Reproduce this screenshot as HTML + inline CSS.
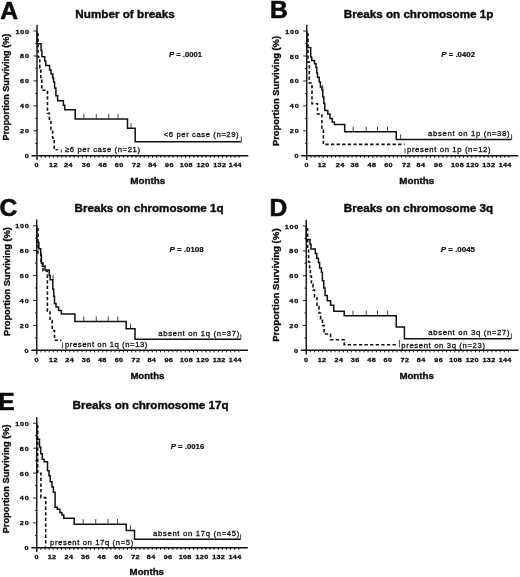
<!DOCTYPE html>
<html lang="en">
<head>
<meta charset="utf-8">
<title>Survival by chromosome breaks</title>
<style>
html,body{margin:0;padding:0;background:#fff;}
body{width:520px;height:577px;overflow:hidden;}
svg{display:block;filter:blur(0.4px);}
text{font-family:"Liberation Sans", Arial, Helvetica, sans-serif;fill:#0b0b0b;}
.ax{fill:none;stroke:#111;stroke-width:1.4;}
.tk{fill:none;stroke:#111;stroke-width:0.9;}
.cv{fill:none;stroke:#111;stroke-width:1.5;stroke-linejoin:miter;}
.ds{fill:none;stroke:#111;stroke-width:1.6;stroke-dasharray:3.3 2.3;}
.ck{fill:none;stroke:#333;stroke-width:0.9;}
.tl{font-size:6.0px;font-weight:700;stroke:#111;stroke-width:0.3;}
.at{font-size:9.7px;font-weight:700;stroke:#111;stroke-width:0.35;}
.yt{font-size:9.2px;font-weight:700;stroke:#111;stroke-width:0.35;}
.pl{font-size:24.6px;font-weight:700;stroke:#0b0b0b;stroke-width:0.6;}
.ti{font-size:11.4px;font-weight:700;stroke:#111;stroke-width:0.4;}
.pv{font-size:7.7px;font-weight:700;stroke:#111;stroke-width:0.2;}
.lb{font-size:7.7px;font-weight:400;stroke:#111;stroke-width:0.28;}
</style>
</head>
<body>
<svg width="520" height="577" viewBox="0 0 520 577">
<rect x="0" y="0" width="520" height="577" fill="#ffffff"/>
<g>
<path class="ax" d="M37.00 24.70 V159.95 M31.50 155.75 H248.30"/>
<path class="tk" d="M33.40 31.00 h3.6 M33.40 55.95 h3.6 M33.40 80.90 h3.6 M33.40 105.85 h3.6 M33.40 130.80 h3.6 M35.20 43.48 h1.8 M35.20 68.42 h1.8 M35.20 93.38 h1.8 M35.20 118.33 h1.8 M35.20 143.28 h1.8"/>
<path class="tk" d="M41.12 155.75 v2.1 M45.25 155.75 v2.1 M49.38 155.75 v2.1 M53.50 155.75 v2.1 M57.62 155.75 v2.1 M61.75 155.75 v2.1 M65.88 155.75 v2.1 M70.00 155.75 v2.1 M74.12 155.75 v2.1 M78.25 155.75 v2.1 M82.38 155.75 v2.1 M86.50 155.75 v2.1 M90.62 155.75 v2.1 M94.75 155.75 v2.1 M98.88 155.75 v2.1 M103.00 155.75 v2.1 M107.12 155.75 v2.1 M111.25 155.75 v2.1 M115.38 155.75 v2.1 M119.50 155.75 v2.1 M123.62 155.75 v2.1 M127.75 155.75 v2.1 M131.88 155.75 v2.1 M136.00 155.75 v2.1 M140.12 155.75 v2.1 M144.25 155.75 v2.1 M148.38 155.75 v2.1 M152.50 155.75 v2.1 M156.62 155.75 v2.1 M160.75 155.75 v2.1 M164.88 155.75 v2.1 M169.00 155.75 v2.1 M173.12 155.75 v2.1 M177.25 155.75 v2.1 M181.38 155.75 v2.1 M185.50 155.75 v2.1 M189.62 155.75 v2.1 M193.75 155.75 v2.1 M197.88 155.75 v2.1 M202.00 155.75 v2.1 M206.12 155.75 v2.1 M210.25 155.75 v2.1 M214.38 155.75 v2.1 M218.50 155.75 v2.1 M222.62 155.75 v2.1 M226.75 155.75 v2.1 M230.88 155.75 v2.1 M235.00 155.75 v2.1 M239.12 155.75 v2.1"/>
<text class="tl" transform="translate(15.60 33.50) scale(1.20 1)" letter-spacing="0.58">100</text>
<text class="tl" transform="translate(20.10 58.45) scale(1.20 1)" letter-spacing="0.74">80</text>
<text class="tl" transform="translate(20.10 83.40) scale(1.20 1)" letter-spacing="0.74">60</text>
<text class="tl" transform="translate(20.10 108.35) scale(1.20 1)" letter-spacing="0.74">40</text>
<text class="tl" transform="translate(20.10 133.30) scale(1.20 1)" letter-spacing="0.74">20</text>
<text class="tl" transform="translate(24.80 158.25) scale(1.20 1)">0</text>
<text class="tl" transform="translate(34.55 167.15) scale(1.20 1)">0</text>
<text class="tl" transform="translate(49.00 167.15) scale(1.20 1)" letter-spacing="0.33">12</text>
<text class="tl" transform="translate(64.10 167.15) scale(1.20 1)" letter-spacing="0.33">24</text>
<text class="tl" transform="translate(81.80 167.15) scale(1.20 1)" letter-spacing="0.33">36</text>
<text class="tl" transform="translate(98.30 167.15) scale(1.20 1)" letter-spacing="0.33">48</text>
<text class="tl" transform="translate(114.80 167.15) scale(1.20 1)" letter-spacing="0.33">60</text>
<text class="tl" transform="translate(132.00 167.15) scale(1.20 1)" letter-spacing="0.33">72</text>
<text class="tl" transform="translate(148.20 167.15) scale(1.20 1)" letter-spacing="0.33">84</text>
<text class="tl" transform="translate(165.10 167.15) scale(1.20 1)" letter-spacing="0.33">96</text>
<text class="tl" transform="translate(179.85 167.15) scale(1.20 1)" letter-spacing="0.29">108</text>
<text class="tl" transform="translate(196.45 167.15) scale(1.20 1)" letter-spacing="0.29">120</text>
<text class="tl" transform="translate(213.25 167.15) scale(1.20 1)" letter-spacing="0.29">132</text>
<text class="tl" transform="translate(228.85 167.15) scale(1.20 1)" letter-spacing="0.29">144</text>
<text class="at" x="130.20" y="183.80" textLength="35.0" lengthAdjust="spacingAndGlyphs">Months</text>
<text class="yt" transform="translate(8.90 140.60) rotate(-90)" textLength="106.9" lengthAdjust="spacingAndGlyphs">Proportion Surviving (%)</text>
<text class="pl" x="0.20" y="18.60">A</text>
<text class="ti" x="75.30" y="17.70" textLength="99.4" lengthAdjust="spacingAndGlyphs">Number of breaks</text>
<text class="pv" x="169.00" y="57.40" textLength="33.0" lengthAdjust="spacingAndGlyphs"><tspan font-style="italic">P</tspan> = .0001</text>
<path class="cv" d="M37.00 31.00 V43.80 H41.10 V50.50 H41.90 V56.80 H44.70 V61.00 H45.80 V65.60 H49.60 V70.00 H51.00 V74.10 H52.60 V78.00 H53.60 V82.00 H54.60 V88.00 H55.90 V95.75 H57.60 V100.80 H63.40 V105.30 H64.80 V109.70 H75.20 V118.90 H127.50 V128.30 H135.20 V141.70 H241.30"/>
<path class="ck" d="M83.90 118.90 v-5.20 M96.25 118.90 v-5.20 M108.75 118.90 v-5.20 M118.00 118.90 v-5.20 M131.00 128.30 v-5.20 M241.30 141.70 v-5.20"/>
<path class="ds" d="M38.00 33.00 V57.00 H39.80 V68.00 H40.80 V79.00 H41.80 V90.30 H47.50 V113.20 H49.40 V121.50 H51.00 V129.50 H52.60 V138.00 H54.20 V149.80 H57.70"/>
<path class="ck" d="M61.3 149.3 v3.3 M53 73.2 v3.8"/>
<text class="lb" x="163.80" y="137.40" textLength="74.8" lengthAdjust="spacing">&lt;6 per case (n=29)</text>
<text class="lb" x="65.00" y="152.30" textLength="75.0" lengthAdjust="spacing">&#8805;6 per case (n=21)</text>
</g>
<g>
<path class="ax" d="M306.75 24.80 V159.95 M301.25 155.75 H518.30"/>
<path class="tk" d="M303.15 31.10 h3.6 M303.15 56.03 h3.6 M303.15 80.96 h3.6 M303.15 105.89 h3.6 M303.15 130.82 h3.6 M304.95 43.56 h1.8 M304.95 68.50 h1.8 M304.95 93.43 h1.8 M304.95 118.36 h1.8 M304.95 143.29 h1.8"/>
<path class="tk" d="M310.88 155.75 v2.1 M315.00 155.75 v2.1 M319.12 155.75 v2.1 M323.25 155.75 v2.1 M327.38 155.75 v2.1 M331.50 155.75 v2.1 M335.62 155.75 v2.1 M339.75 155.75 v2.1 M343.88 155.75 v2.1 M348.00 155.75 v2.1 M352.12 155.75 v2.1 M356.25 155.75 v2.1 M360.38 155.75 v2.1 M364.50 155.75 v2.1 M368.62 155.75 v2.1 M372.75 155.75 v2.1 M376.88 155.75 v2.1 M381.00 155.75 v2.1 M385.12 155.75 v2.1 M389.25 155.75 v2.1 M393.38 155.75 v2.1 M397.50 155.75 v2.1 M401.62 155.75 v2.1 M405.75 155.75 v2.1 M409.88 155.75 v2.1 M414.00 155.75 v2.1 M418.12 155.75 v2.1 M422.25 155.75 v2.1 M426.38 155.75 v2.1 M430.50 155.75 v2.1 M434.62 155.75 v2.1 M438.75 155.75 v2.1 M442.88 155.75 v2.1 M447.00 155.75 v2.1 M451.12 155.75 v2.1 M455.25 155.75 v2.1 M459.38 155.75 v2.1 M463.50 155.75 v2.1 M467.62 155.75 v2.1 M471.75 155.75 v2.1 M475.88 155.75 v2.1 M480.00 155.75 v2.1 M484.12 155.75 v2.1 M488.25 155.75 v2.1 M492.38 155.75 v2.1 M496.50 155.75 v2.1 M500.62 155.75 v2.1 M504.75 155.75 v2.1 M508.88 155.75 v2.1"/>
<text class="tl" transform="translate(285.35 33.60) scale(1.20 1)" letter-spacing="0.58">100</text>
<text class="tl" transform="translate(289.85 58.53) scale(1.20 1)" letter-spacing="0.74">80</text>
<text class="tl" transform="translate(289.85 83.46) scale(1.20 1)" letter-spacing="0.74">60</text>
<text class="tl" transform="translate(289.85 108.39) scale(1.20 1)" letter-spacing="0.74">40</text>
<text class="tl" transform="translate(289.85 133.32) scale(1.20 1)" letter-spacing="0.74">20</text>
<text class="tl" transform="translate(294.55 158.25) scale(1.20 1)">0</text>
<text class="tl" transform="translate(304.45 167.15) scale(1.20 1)">0</text>
<text class="tl" transform="translate(317.70 167.15) scale(1.20 1)" letter-spacing="0.33">12</text>
<text class="tl" transform="translate(335.80 167.15) scale(1.20 1)" letter-spacing="0.33">24</text>
<text class="tl" transform="translate(350.40 167.15) scale(1.20 1)" letter-spacing="0.33">36</text>
<text class="tl" transform="translate(367.50 167.15) scale(1.20 1)" letter-spacing="0.33">48</text>
<text class="tl" transform="translate(384.20 167.15) scale(1.20 1)" letter-spacing="0.33">60</text>
<text class="tl" transform="translate(402.00 167.15) scale(1.20 1)" letter-spacing="0.33">72</text>
<text class="tl" transform="translate(416.60 167.15) scale(1.20 1)" letter-spacing="0.33">84</text>
<text class="tl" transform="translate(434.00 167.15) scale(1.20 1)" letter-spacing="0.33">96</text>
<text class="tl" transform="translate(450.95 167.15) scale(1.20 1)" letter-spacing="0.29">108</text>
<text class="tl" transform="translate(466.05 167.15) scale(1.20 1)" letter-spacing="0.29">120</text>
<text class="tl" transform="translate(482.25 167.15) scale(1.20 1)" letter-spacing="0.29">132</text>
<text class="tl" transform="translate(498.65 167.15) scale(1.20 1)" letter-spacing="0.29">144</text>
<text class="at" x="399.20" y="184.10" textLength="35.0" lengthAdjust="spacingAndGlyphs">Months</text>
<text class="yt" transform="translate(279.40 146.00) rotate(-90)" textLength="110.0" lengthAdjust="spacingAndGlyphs">Proportion Surviving (%)</text>
<text class="pl" x="270.00" y="18.20">B</text>
<text class="ti" x="343.80" y="18.00" textLength="149.6" lengthAdjust="spacingAndGlyphs">Breaks on chromosome 1p</text>
<text class="pv" x="441.30" y="57.20" textLength="33.7" lengthAdjust="spacingAndGlyphs"><tspan font-style="italic">P</tspan> = .0402</text>
<path class="cv" d="M306.75 31.10 V47.40 H310.70 V57.10 H311.70 V60.40 H314.50 V63.80 H316.00 V67.50 H316.80 V72.90 H317.50 V77.20 H319.20 V82.00 H320.40 V86.90 H321.90 V90.00 H322.80 V97.00 H323.80 V103.50 H324.80 V110.40 H327.80 V114.00 H330.00 V118.50 H332.20 V122.00 H334.40 V124.40 H344.70 V131.80 H396.25 V139.60 H511.60"/>
<path class="ck" d="M353.20 131.80 v-5.20 M366.25 131.80 v-5.20 M377.50 131.80 v-5.20 M387.50 131.80 v-5.20 M400.60 139.60 v-5.20 M511.60 139.60 v-5.20 M322.70 90.20 v-5.20"/>
<path class="ds" d="M308.00 33.00 V62.00 H309.30 V83.00 H312.00 V103.70 H317.50 V114.00 H321.90 V128.00 H323.40 V144.40 H404.60"/>
<path class="ck" d="M405 148.2 v5"/>
<text class="lb" x="428.10" y="136.20" textLength="81.5" lengthAdjust="spacing">absent on 1p (n=38)</text>
<text class="lb" x="407.00" y="152.20" textLength="83.5" lengthAdjust="spacing">present on 1p (n=12)</text>
</g>
<g>
<path class="ax" d="M36.75 219.45 V354.50 M31.25 350.30 H248.00"/>
<path class="tk" d="M33.15 225.75 h3.6 M33.15 250.66 h3.6 M33.15 275.57 h3.6 M33.15 300.48 h3.6 M33.15 325.39 h3.6 M34.95 238.21 h1.8 M34.95 263.12 h1.8 M34.95 288.02 h1.8 M34.95 312.94 h1.8 M34.95 337.85 h1.8"/>
<path class="tk" d="M40.88 350.30 v2.1 M45.00 350.30 v2.1 M49.12 350.30 v2.1 M53.25 350.30 v2.1 M57.38 350.30 v2.1 M61.50 350.30 v2.1 M65.62 350.30 v2.1 M69.75 350.30 v2.1 M73.88 350.30 v2.1 M78.00 350.30 v2.1 M82.12 350.30 v2.1 M86.25 350.30 v2.1 M90.38 350.30 v2.1 M94.50 350.30 v2.1 M98.62 350.30 v2.1 M102.75 350.30 v2.1 M106.88 350.30 v2.1 M111.00 350.30 v2.1 M115.12 350.30 v2.1 M119.25 350.30 v2.1 M123.38 350.30 v2.1 M127.50 350.30 v2.1 M131.62 350.30 v2.1 M135.75 350.30 v2.1 M139.88 350.30 v2.1 M144.00 350.30 v2.1 M148.12 350.30 v2.1 M152.25 350.30 v2.1 M156.38 350.30 v2.1 M160.50 350.30 v2.1 M164.62 350.30 v2.1 M168.75 350.30 v2.1 M172.88 350.30 v2.1 M177.00 350.30 v2.1 M181.12 350.30 v2.1 M185.25 350.30 v2.1 M189.38 350.30 v2.1 M193.50 350.30 v2.1 M197.62 350.30 v2.1 M201.75 350.30 v2.1 M205.88 350.30 v2.1 M210.00 350.30 v2.1 M214.12 350.30 v2.1 M218.25 350.30 v2.1 M222.38 350.30 v2.1 M226.50 350.30 v2.1 M230.62 350.30 v2.1 M234.75 350.30 v2.1 M238.88 350.30 v2.1"/>
<text class="tl" transform="translate(15.35 228.25) scale(1.20 1)" letter-spacing="0.58">100</text>
<text class="tl" transform="translate(19.85 253.16) scale(1.20 1)" letter-spacing="0.74">80</text>
<text class="tl" transform="translate(19.85 278.07) scale(1.20 1)" letter-spacing="0.74">60</text>
<text class="tl" transform="translate(19.85 302.98) scale(1.20 1)" letter-spacing="0.74">40</text>
<text class="tl" transform="translate(19.85 327.89) scale(1.20 1)" letter-spacing="0.74">20</text>
<text class="tl" transform="translate(24.55 352.80) scale(1.20 1)">0</text>
<text class="tl" transform="translate(34.45 361.70) scale(1.20 1)">0</text>
<text class="tl" transform="translate(49.10 361.70) scale(1.20 1)" letter-spacing="0.33">12</text>
<text class="tl" transform="translate(65.30 361.70) scale(1.20 1)" letter-spacing="0.33">24</text>
<text class="tl" transform="translate(81.80 361.70) scale(1.20 1)" letter-spacing="0.33">36</text>
<text class="tl" transform="translate(97.90 361.70) scale(1.20 1)" letter-spacing="0.33">48</text>
<text class="tl" transform="translate(114.70 361.70) scale(1.20 1)" letter-spacing="0.33">60</text>
<text class="tl" transform="translate(131.60 361.70) scale(1.20 1)" letter-spacing="0.33">72</text>
<text class="tl" transform="translate(147.40 361.70) scale(1.20 1)" letter-spacing="0.33">84</text>
<text class="tl" transform="translate(164.40 361.70) scale(1.20 1)" letter-spacing="0.33">96</text>
<text class="tl" transform="translate(179.95 361.70) scale(1.20 1)" letter-spacing="0.29">108</text>
<text class="tl" transform="translate(196.35 361.70) scale(1.20 1)" letter-spacing="0.29">120</text>
<text class="tl" transform="translate(212.65 361.70) scale(1.20 1)" letter-spacing="0.29">132</text>
<text class="tl" transform="translate(228.85 361.70) scale(1.20 1)" letter-spacing="0.29">144</text>
<text class="at" x="130.40" y="378.60" textLength="34.0" lengthAdjust="spacingAndGlyphs">Months</text>
<text class="yt" transform="translate(10.00 336.00) rotate(-90)" textLength="108.8" lengthAdjust="spacingAndGlyphs">Proportion Surviving (%)</text>
<text class="pl" x="-0.60" y="216.30">C</text>
<text class="ti" x="74.60" y="212.20" textLength="149.0" lengthAdjust="spacingAndGlyphs">Breaks on chromosome 1q</text>
<text class="pv" x="169.50" y="252.20" textLength="34.2" lengthAdjust="spacingAndGlyphs"><tspan font-style="italic">P</tspan> = .0108</text>
<path class="cv" d="M36.75 225.75 V242.50 H38.90 V248.75 H40.70 V255.50 H41.40 V263.30 H42.40 V266.20 H45.00 V270.00 H49.30 V275.50 H50.20 V279.80 H52.80 V289.30 H53.70 V296.30 H54.50 V303.50 H56.00 V307.00 H58.60 V310.60 H61.40 V314.00 H64.30 V314.00 H74.90 V321.60 H126.20 V328.75 H135.00 V339.30 H240.80"/>
<path class="ck" d="M83.70 321.60 v-5.20 M96.25 321.60 v-5.20 M108.25 321.60 v-5.20 M117.80 321.60 v-5.20 M130.50 328.75 v-5.20 M240.80 339.30 v-5.20 M45.50 270.00 v-5.20 M53.10 279.80 v-5.20"/>
<path class="ds" d="M38.00 228.00 V253.00 H41.00 V262.00 H43.00 V271.00 H47.40 V311.20 H50.00 V320.50 H52.20 V330.50 H54.50 V340.20 H61.40"/>
<path class="ck" d="M62.6 342.4 v6.2"/>
<text class="lb" x="158.30" y="335.70" textLength="81.0" lengthAdjust="spacing">absent on 1q (n=37)</text>
<text class="lb" x="65.00" y="347.40" textLength="82.4" lengthAdjust="spacing">present on 1q (n=13)</text>
</g>
<g>
<path class="ax" d="M306.25 219.70 V354.50 M300.75 350.30 H518.60"/>
<path class="tk" d="M302.65 226.00 h3.6 M302.65 250.86 h3.6 M302.65 275.72 h3.6 M302.65 300.58 h3.6 M302.65 325.44 h3.6 M304.45 238.43 h1.8 M304.45 263.29 h1.8 M304.45 288.15 h1.8 M304.45 313.01 h1.8 M304.45 337.87 h1.8"/>
<path class="tk" d="M310.38 350.30 v2.1 M314.50 350.30 v2.1 M318.62 350.30 v2.1 M322.75 350.30 v2.1 M326.88 350.30 v2.1 M331.00 350.30 v2.1 M335.12 350.30 v2.1 M339.25 350.30 v2.1 M343.38 350.30 v2.1 M347.50 350.30 v2.1 M351.62 350.30 v2.1 M355.75 350.30 v2.1 M359.88 350.30 v2.1 M364.00 350.30 v2.1 M368.12 350.30 v2.1 M372.25 350.30 v2.1 M376.38 350.30 v2.1 M380.50 350.30 v2.1 M384.62 350.30 v2.1 M388.75 350.30 v2.1 M392.88 350.30 v2.1 M397.00 350.30 v2.1 M401.12 350.30 v2.1 M405.25 350.30 v2.1 M409.38 350.30 v2.1 M413.50 350.30 v2.1 M417.62 350.30 v2.1 M421.75 350.30 v2.1 M425.88 350.30 v2.1 M430.00 350.30 v2.1 M434.12 350.30 v2.1 M438.25 350.30 v2.1 M442.38 350.30 v2.1 M446.50 350.30 v2.1 M450.62 350.30 v2.1 M454.75 350.30 v2.1 M458.88 350.30 v2.1 M463.00 350.30 v2.1 M467.12 350.30 v2.1 M471.25 350.30 v2.1 M475.38 350.30 v2.1 M479.50 350.30 v2.1 M483.62 350.30 v2.1 M487.75 350.30 v2.1 M491.88 350.30 v2.1 M496.00 350.30 v2.1 M500.12 350.30 v2.1 M504.25 350.30 v2.1 M508.38 350.30 v2.1"/>
<text class="tl" transform="translate(284.85 228.50) scale(1.20 1)" letter-spacing="0.58">100</text>
<text class="tl" transform="translate(289.35 253.36) scale(1.20 1)" letter-spacing="0.74">80</text>
<text class="tl" transform="translate(289.35 278.22) scale(1.20 1)" letter-spacing="0.74">60</text>
<text class="tl" transform="translate(289.35 303.08) scale(1.20 1)" letter-spacing="0.74">40</text>
<text class="tl" transform="translate(289.35 327.94) scale(1.20 1)" letter-spacing="0.74">20</text>
<text class="tl" transform="translate(294.05 352.80) scale(1.20 1)">0</text>
<text class="tl" transform="translate(303.95 361.70) scale(1.20 1)">0</text>
<text class="tl" transform="translate(317.70 361.70) scale(1.20 1)" letter-spacing="0.33">12</text>
<text class="tl" transform="translate(334.60 361.70) scale(1.20 1)" letter-spacing="0.33">24</text>
<text class="tl" transform="translate(350.80 361.70) scale(1.20 1)" letter-spacing="0.33">36</text>
<text class="tl" transform="translate(367.30 361.70) scale(1.20 1)" letter-spacing="0.33">48</text>
<text class="tl" transform="translate(383.60 361.70) scale(1.20 1)" letter-spacing="0.33">60</text>
<text class="tl" transform="translate(400.50 361.70) scale(1.20 1)" letter-spacing="0.33">72</text>
<text class="tl" transform="translate(416.80 361.70) scale(1.20 1)" letter-spacing="0.33">84</text>
<text class="tl" transform="translate(434.30 361.70) scale(1.20 1)" letter-spacing="0.33">96</text>
<text class="tl" transform="translate(449.15 361.70) scale(1.20 1)" letter-spacing="0.29">108</text>
<text class="tl" transform="translate(465.75 361.70) scale(1.20 1)" letter-spacing="0.29">120</text>
<text class="tl" transform="translate(482.45 361.70) scale(1.20 1)" letter-spacing="0.29">132</text>
<text class="tl" transform="translate(498.65 361.70) scale(1.20 1)" letter-spacing="0.29">144</text>
<text class="at" x="399.40" y="378.80" textLength="34.4" lengthAdjust="spacingAndGlyphs">Months</text>
<text class="yt" transform="translate(279.00 341.80) rotate(-90)" textLength="113.4" lengthAdjust="spacingAndGlyphs">Proportion Surviving (%)</text>
<text class="pl" x="269.50" y="215.90">D</text>
<text class="ti" x="343.80" y="212.00" textLength="149.2" lengthAdjust="spacingAndGlyphs">Breaks on chromosome 3q</text>
<text class="pv" x="440.80" y="252.00" textLength="34.2" lengthAdjust="spacingAndGlyphs"><tspan font-style="italic">P</tspan> = .0045</text>
<path class="cv" d="M306.25 226.00 V239.40 H310.00 V244.30 H311.00 V249.10 H315.30 V253.40 H316.80 V258.20 H318.40 V262.50 H319.60 V267.90 H321.40 V272.20 H322.40 V280.70 H323.80 V288.00 H325.10 V295.60 H327.30 V300.80 H330.60 V305.30 H333.80 V311.20 H344.20 V315.70 H396.25 V327.00 H404.40 V338.80 H511.30"/>
<path class="ck" d="M353.00 315.70 v-5.20 M366.25 315.70 v-5.20 M377.50 315.70 v-5.20 M387.70 315.70 v-5.20 M511.30 338.80 v-5.20"/>
<path class="ds" d="M307.60 228.00 V250.00 H308.60 V262.00 H309.60 V268.50 H310.40 V276.00 H311.40 V284.30 H313.00 V290.00 H314.50 V297.00 H317.00 V306.60 H319.00 V313.00 H320.60 V319.00 H322.40 V325.50 H324.10 V334.00 H330.50 V339.80 H344.20 V344.70 H397.60"/>
<path class="ck" d="M399.4 339.8 v7.6"/>
<text class="lb" x="428.30" y="335.20" textLength="81.2" lengthAdjust="spacing">absent on 3q (n=27)</text>
<text class="lb" x="401.30" y="347.70" textLength="83.7" lengthAdjust="spacing">present on 3q (n=23)</text>
</g>
<g>
<path class="ax" d="M36.75 416.95 V552.00 M31.25 547.80 H247.80"/>
<path class="tk" d="M33.15 423.25 h3.6 M33.15 448.16 h3.6 M33.15 473.07 h3.6 M33.15 497.98 h3.6 M33.15 522.89 h3.6 M34.95 435.70 h1.8 M34.95 460.62 h1.8 M34.95 485.52 h1.8 M34.95 510.43 h1.8 M34.95 535.34 h1.8"/>
<path class="tk" d="M40.88 547.80 v2.1 M45.00 547.80 v2.1 M49.12 547.80 v2.1 M53.25 547.80 v2.1 M57.38 547.80 v2.1 M61.50 547.80 v2.1 M65.62 547.80 v2.1 M69.75 547.80 v2.1 M73.88 547.80 v2.1 M78.00 547.80 v2.1 M82.12 547.80 v2.1 M86.25 547.80 v2.1 M90.38 547.80 v2.1 M94.50 547.80 v2.1 M98.62 547.80 v2.1 M102.75 547.80 v2.1 M106.88 547.80 v2.1 M111.00 547.80 v2.1 M115.12 547.80 v2.1 M119.25 547.80 v2.1 M123.38 547.80 v2.1 M127.50 547.80 v2.1 M131.62 547.80 v2.1 M135.75 547.80 v2.1 M139.88 547.80 v2.1 M144.00 547.80 v2.1 M148.12 547.80 v2.1 M152.25 547.80 v2.1 M156.38 547.80 v2.1 M160.50 547.80 v2.1 M164.62 547.80 v2.1 M168.75 547.80 v2.1 M172.88 547.80 v2.1 M177.00 547.80 v2.1 M181.12 547.80 v2.1 M185.25 547.80 v2.1 M189.38 547.80 v2.1 M193.50 547.80 v2.1 M197.62 547.80 v2.1 M201.75 547.80 v2.1 M205.88 547.80 v2.1 M210.00 547.80 v2.1 M214.12 547.80 v2.1 M218.25 547.80 v2.1 M222.38 547.80 v2.1 M226.50 547.80 v2.1 M230.62 547.80 v2.1 M234.75 547.80 v2.1 M238.88 547.80 v2.1"/>
<text class="tl" transform="translate(15.35 425.75) scale(1.20 1)" letter-spacing="0.58">100</text>
<text class="tl" transform="translate(19.85 450.66) scale(1.20 1)" letter-spacing="0.74">80</text>
<text class="tl" transform="translate(19.85 475.57) scale(1.20 1)" letter-spacing="0.74">60</text>
<text class="tl" transform="translate(19.85 500.48) scale(1.20 1)" letter-spacing="0.74">40</text>
<text class="tl" transform="translate(19.85 525.39) scale(1.20 1)" letter-spacing="0.74">20</text>
<text class="tl" transform="translate(24.55 550.30) scale(1.20 1)">0</text>
<text class="tl" transform="translate(34.45 559.20) scale(1.20 1)">0</text>
<text class="tl" transform="translate(47.70 559.20) scale(1.20 1)" letter-spacing="0.33">12</text>
<text class="tl" transform="translate(64.60 559.20) scale(1.20 1)" letter-spacing="0.33">24</text>
<text class="tl" transform="translate(81.00 559.20) scale(1.20 1)" letter-spacing="0.33">36</text>
<text class="tl" transform="translate(97.30 559.20) scale(1.20 1)" letter-spacing="0.33">48</text>
<text class="tl" transform="translate(114.20 559.20) scale(1.20 1)" letter-spacing="0.33">60</text>
<text class="tl" transform="translate(131.20 559.20) scale(1.20 1)" letter-spacing="0.33">72</text>
<text class="tl" transform="translate(146.80 559.20) scale(1.20 1)" letter-spacing="0.33">84</text>
<text class="tl" transform="translate(163.70 559.20) scale(1.20 1)" letter-spacing="0.33">96</text>
<text class="tl" transform="translate(178.65 559.20) scale(1.20 1)" letter-spacing="0.29">108</text>
<text class="tl" transform="translate(195.45 559.20) scale(1.20 1)" letter-spacing="0.29">120</text>
<text class="tl" transform="translate(212.15 559.20) scale(1.20 1)" letter-spacing="0.29">132</text>
<text class="tl" transform="translate(228.45 559.20) scale(1.20 1)" letter-spacing="0.29">144</text>
<text class="at" x="129.60" y="575.20" textLength="34.4" lengthAdjust="spacingAndGlyphs">Months</text>
<text class="yt" transform="translate(9.40 533.30) rotate(-90)" textLength="108.8" lengthAdjust="spacingAndGlyphs">Proportion Surviving (%)</text>
<text class="pl" x="-1.70" y="410.20">E</text>
<text class="ti" x="72.60" y="409.20" textLength="156.0" lengthAdjust="spacingAndGlyphs">Breaks on chromosome 17q</text>
<text class="pv" x="170.80" y="449.30" textLength="33.4" lengthAdjust="spacingAndGlyphs"><tspan font-style="italic">P</tspan> = .0016</text>
<path class="cv" d="M36.75 423.25 V439.30 H39.50 V447.00 H40.70 V453.80 H42.30 V459.30 H44.10 V461.70 H47.50 V470.80 H49.00 V475.70 H50.20 V481.70 H52.00 V487.00 H53.40 V492.30 H55.10 V507.30 H57.30 V509.20 H59.90 V512.50 H61.90 V515.10 H63.80 V518.30 H74.20 V524.25 H126.25 V530.50 H134.50 V539.30 H240.60"/>
<path class="ck" d="M83.20 524.25 v-5.20 M95.75 524.25 v-5.20 M108.00 524.25 v-5.20 M117.50 524.25 v-5.20 M130.50 530.50 v-5.20 M240.60 539.30 v-5.20"/>
<path class="ds" d="M37.70 425.00 V473.20 H40.90 V497.60 H45.70 V546.00 H45.80"/>
<text class="lb" x="153.00" y="535.70" textLength="86.3" lengthAdjust="spacing">absent on 17q (n=45)</text>
<text class="lb" x="50.00" y="544.80" textLength="83.2" lengthAdjust="spacing">present on 17q (n=5)</text>
</g>
</svg>
</body>
</html>
